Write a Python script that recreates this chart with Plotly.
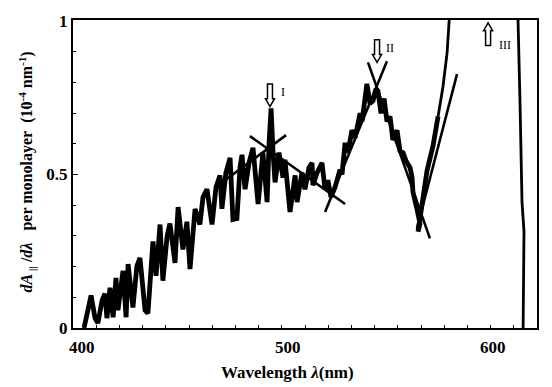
import plotly.graph_objects as go

# ---- data ----
wavelength = [407.5, 409.3, 410.7, 412.5, 413.8, 415.7, 417.0, 417.9, 419.3, 420.7,
              422.0, 422.9, 424.3, 425.2, 426.6, 427.5, 429.7, 431.5, 432.9, 435.2,
              436.5, 437.9, 438.8, 440.2, 442.0, 443.3, 445.2, 446.5, 448.8, 450.2,
              452.4, 454.2, 455.6, 457.9, 460.1, 461.5, 463.3, 465.6, 467.4, 469.2,
              470.1, 471.9, 473.8, 475.1, 476.9, 478.3, 479.2, 480.6, 482.4, 484.2,
              486.5, 488.7, 490.6, 491.5, 492.4, 493.3, 494.2, 496.0, 497.8, 498.7,
              501.0, 503.3, 504.2, 506.4, 507.8, 509.6, 511.0, 511.4, 513.3, 515.5,
              516.9, 518.2, 519.6, 521.4, 523.7, 524.6, 526.0, 527.3, 529.1, 530.5,
              532.8, 533.7, 535.0, 535.9, 537.3, 538.7, 540.0, 540.9, 542.3, 543.7,
              545.0, 546.4, 547.7, 549.6, 550.9, 552.3, 553.6, 555.5, 556.4, 556.8,
              558.6, 560.0, 559.1, 560.9, 563.2, 565.9, 568.2]
dA_dlambda = [0.000, 0.051, 0.106, 0.032, 0.016, 0.090, 0.112, 0.032, 0.131, 0.035,
              0.163, 0.058, 0.154, 0.186, 0.035, 0.208, 0.067, 0.202, 0.228, 0.058,
              0.048, 0.218, 0.282, 0.170, 0.337, 0.154, 0.298, 0.340, 0.212, 0.394,
              0.256, 0.346, 0.192, 0.388, 0.337, 0.426, 0.452, 0.337, 0.458, 0.497,
              0.388, 0.506, 0.554, 0.353, 0.356, 0.522, 0.564, 0.452, 0.538, 0.587,
              0.404, 0.571, 0.410, 0.603, 0.715, 0.571, 0.474, 0.571, 0.490, 0.548,
              0.378, 0.497, 0.410, 0.506, 0.452, 0.522, 0.538, 0.465, 0.506, 0.538,
              0.452, 0.481, 0.426, 0.458, 0.516, 0.500, 0.603, 0.571, 0.644, 0.619,
              0.699, 0.673, 0.763, 0.795, 0.731, 0.740, 0.779, 0.772, 0.699, 0.747,
              0.673, 0.689, 0.612, 0.644, 0.577, 0.571, 0.545, 0.522, 0.490, 0.442,
              0.388, 0.340, 0.314, 0.410, 0.513, 0.593, 0.689]

# steep, off-scale part of the spectrum (thinner trace in the picture)
wavelength_hi = [568.2, 570.4, 572.3, 573.6, 575.0, 604.5, 604.5, 605.4, 606.3, 606.8, 607.2, 606.8]
dA_dlambda_hi = [0.689, 0.785, 0.897, 1.003, 1.200, 1.200, 1.000, 0.731, 0.410, 0.356, 0.314, 0.000]

# straight-line fits (start, end)
fit_x = [[471.5, 499.2], [482.8, 526.0], [516.9, 545.0], [536.4, 564.5], [576.8, 558.6]]
fit_y = [[0.481, 0.628], [0.625, 0.404], [0.378, 0.869], [0.865, 0.292], [0.827, 0.324]]

# peak markers
peak_labels = ["I", "II", "III"]
peak_arrow_x = [491.9, 540.5, 590.9]
peak_arrow_tip = [0.721, 0.865, 0.994]
peak_arrow_dir = ["down", "down", "up"]
peak_label_x = [497.8, 546.4, 598.6]
peak_label_y = [0.769, 0.913, 0.923]

x_ticks = [400, 500, 600]
y_ticks = [0, 0.5, 1]
y_ticktext = ["0", "0.5", "1"]

# ---- figure ----
SERIF = "Liberation Serif"
X_RANGE = [402.5, 613.1]
PX_X = 1 / 2.203    # nm per pixel
PX_Y = 1 / 312.0    # y units per pixel

def xpaper(v):
    return (v - X_RANGE[0]) / (X_RANGE[1] - X_RANGE[0])

fig = go.Figure()
fig.add_trace(go.Scatter(x=wavelength, y=dA_dlambda, mode="lines",
                         line=dict(color="black", width=4.8), hoverinfo="skip"))
fig.add_trace(go.Scatter(x=wavelength_hi, y=dA_dlambda_hi, mode="lines",
                         line=dict(color="black", width=2.8), hoverinfo="skip"))
for fx, fy in zip(fit_x, fit_y):
    fig.add_trace(go.Scatter(x=fx, y=fy, mode="lines",
                             line=dict(color="black", width=2.6), hoverinfo="skip"))

def arrow_path(xt, yt, direction, length=23, shaft=2.5, head=4.5, headlen=8):
    s = -1 if direction == "down" else 1
    def P(dx, dy):
        return f"{xt + dx * PX_X},{yt - s * dy * PX_Y}"
    pts = [P(0, 0), P(head, headlen), P(shaft, headlen), P(shaft, length),
           P(-shaft, length), P(-shaft, headlen), P(-head, headlen)]
    return "M " + " L ".join(pts) + " Z"

shapes = []
for xa, ya, d in zip(peak_arrow_x, peak_arrow_tip, peak_arrow_dir):
    shapes.append(dict(type="path", xref="x", yref="y", path=arrow_path(xa, ya, d),
                       line=dict(color="black", width=1.5), fillcolor="white"))

annotations = []
for lab, lx, ly in zip(peak_labels, peak_label_x, peak_label_y):
    annotations.append(dict(x=lx, y=ly, xref="x", yref="y", text=lab, showarrow=False,
                            font=dict(family=SERIF, size=12, color="black")))
for xv in x_ticks:
    annotations.append(dict(x=xpaper(xv), y=0, xref="paper", yref="paper", yanchor="middle",
                            yshift=-19, text=str(xv), showarrow=False,
                            font=dict(family=SERIF, size=17, color="black", weight="bold")))
annotations.append(dict(x=xpaper(500), y=0, xref="paper", yref="paper", yanchor="middle",
                        yshift=-44, text="Wavelength <i>λ</i>(nm)", showarrow=False,
                        font=dict(family=SERIF, size=17, color="black", weight="bold")))
annotations.append(dict(x=-0.099, y=0.505, xref="paper", yref="paper", textangle=-90,
                        xanchor="center", yanchor="middle", showarrow=False,
                        text="<i>dA</i><sub> ||</sub>&nbsp;/<i>dλ</i>&nbsp;&nbsp;&nbsp;per monolayer&nbsp;&nbsp;(10<sup>-4</sup> nm<sup>-1</sup>)",
                        font=dict(family=SERIF, size=16, color="black", weight="bold")))

fig.update_layout(
    width=552, height=387,
    margin=dict(l=73, r=15, t=15, b=59),
    paper_bgcolor="white", plot_bgcolor="white",
    showlegend=False,
    shapes=shapes, annotations=annotations,
    xaxis=dict(range=X_RANGE, showgrid=False, zeroline=False,
               showline=True, linecolor="black", linewidth=2, mirror=True,
               ticks="inside", tick0=X_RANGE[0], dtick=10.53, ticklen=3, tickcolor="black",
               showticklabels=False),
    yaxis=dict(range=[0, 1.003], showgrid=False, zeroline=False,
               showline=True, linecolor="black", linewidth=2, mirror=True,
               tickvals=y_ticks, ticktext=y_ticktext, ticks="inside", ticklen=5,
               tickcolor="black",
               minor=dict(dtick=0.1, ticks="inside", ticklen=3, tickcolor="black"),
               tickfont=dict(family=SERIF, size=17, color="black", weight="bold")),
)

fig.write_html("out.html", config={"displayModeBar": False},
               post_script="document.body.style.margin='0';")
